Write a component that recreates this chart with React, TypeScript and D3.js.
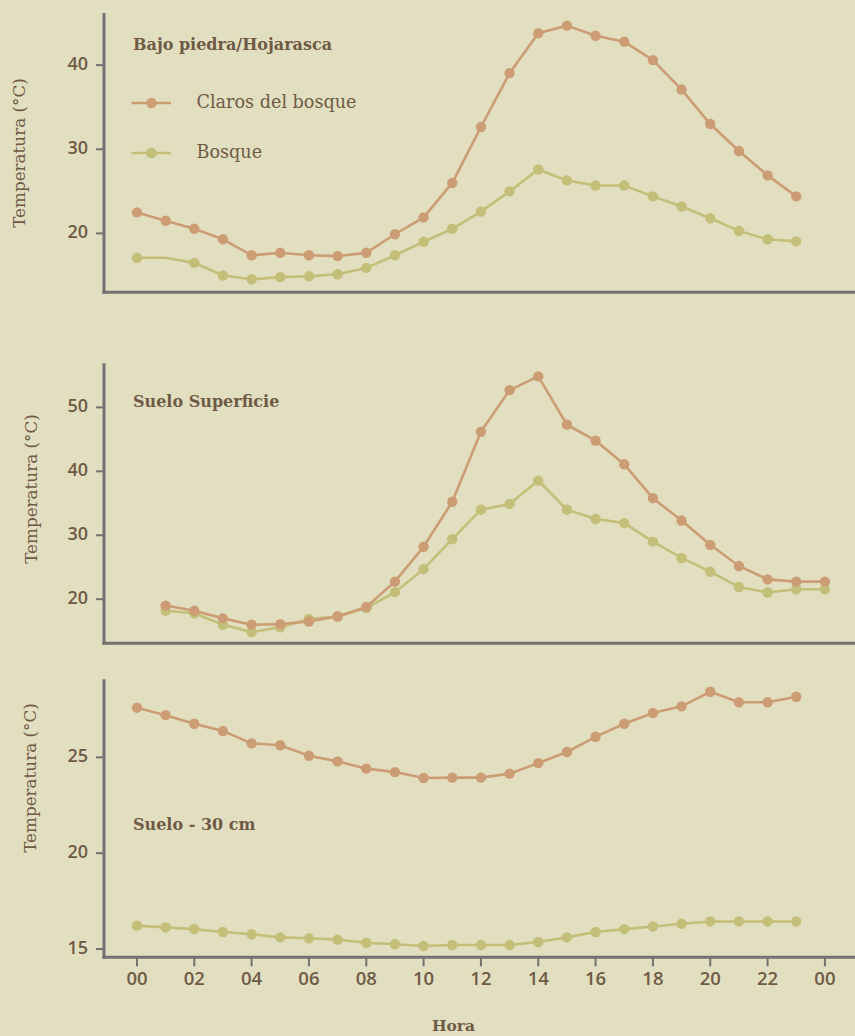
import React from 'react';
import * as d3 from 'd3';

// hours of the day
const hours = d3.range(0, 24);
const hoursSuelo = d3.range(1, 25);

// Bajo piedra / Hojarasca
const clarosHojarasca = [22.5, 21.5, 20.55, 19.3, 17.4, 17.7, 17.4, 17.3, 17.7, 19.9, 21.9, 26.0,
  32.65, 39.05, 43.8, 44.7, 43.5, 42.8, 40.6, 37.1, 33.0, 29.8, 26.9, 24.4];
const bosqueHojarasca = [17.1, 17.1, 16.5, 15.0, 14.55, 14.8, 14.9, 15.15, 15.9, 17.4, 19.0, 20.55,
  22.6, 25.0, 27.6, 26.3, 25.7, 25.7, 24.4, 23.2, 21.8, 20.3, 19.3, 19.05];
const bosqueHojarascaSinMarca = [1];

// Suelo superficie (01..24)
const clarosSuperficie = [19.0, 18.2, 17.0, 16.0, 16.1, 16.5, 17.3, 18.8, 22.75, 28.2, 35.25, 46.2,
  52.7, 54.85, 47.3, 44.8, 41.1, 35.8, 32.3, 28.5, 25.2, 23.1, 22.75, 22.75];
const bosqueSuperficie = [18.2, 17.8, 16.0, 14.85, 15.6, 16.9, 17.3, 18.6, 21.1, 24.7, 29.4, 34.0,
  34.9, 38.55, 34.0, 32.55, 31.9, 29.0, 26.45, 24.3, 21.9, 21.05, 21.55, 21.55];

// Suelo - 30 cm
const claros30 = [27.59, 27.2, 26.75, 26.37, 25.73, 25.63, 25.08, 24.79, 24.41, 24.23, 23.92, 23.94,
  23.94, 24.15, 24.7, 25.28, 26.07, 26.75, 27.31, 27.66, 28.42, 27.87, 27.87, 28.16];
const bosque30 = [16.22, 16.13, 16.04, 15.89, 15.77, 15.61, 15.56, 15.49, 15.33, 15.25, 15.16, 15.21,
  15.21, 15.21, 15.37, 15.61, 15.89, 16.04, 16.18, 16.32, 16.44, 16.44, 16.44, 16.44];

const ticksHojarasca = [20, 30, 40];
const ticksSuperficie = [20, 30, 40, 50];
const ticks30 = [15, 20, 25];
const xTicks = d3.range(0, 25, 2);
const xTickLabels = ['00', '02', '04', '06', '08', '10', '12', '14', '16', '18', '20', '22', '00'];

const seriesNames = ['Claros del bosque', 'Bosque'];

const W = 855;
const H = 1036;
const BG = '#e2dfc1';
const ORANGE = '#cc9d74';
const GREEN = '#c3be78';
const TEXT = '#6f5a45';
const AXIS = '#727272';
const SERIF = '"DejaVu Serif", serif';
const SANS = '"Open Sans", sans-serif';

const x = d3.scaleLinear().domain([-1.15, 25.05]).range([104, W]);

type Panel = {
  title: string;
  titleY: number;
  yDomain: [number, number];
  yRange: [number, number];
  ticks: number[];
  labelX: number;
  labelY: number;
  hrs: number[];
  claros: number[];
  bosque: number[];
  noMark?: number[];
  legend?: boolean;
  xAxisTicks?: boolean;
};

const panels: Panel[] = [
  {
    title: 'Bajo piedra/Hojarasca', titleY: 45, yDomain: [13, 46.2], yRange: [292.3, 13],
    ticks: ticksHojarasca, labelX: 20, labelY: 153, hrs: hours,
    claros: clarosHojarasca, bosque: bosqueHojarasca, noMark: bosqueHojarascaSinMarca, legend: true,
  },
  {
    title: 'Suelo Superficie', titleY: 402, yDomain: [13.1, 56.9], yRange: [643.3, 363.3],
    ticks: ticksSuperficie, labelX: 32, labelY: 489, hrs: hoursSuelo,
    claros: clarosSuperficie, bosque: bosqueSuperficie,
  },
  {
    title: 'Suelo - 30 cm', titleY: 825, yDomain: [14.57, 29.07], yRange: [957.3, 679.3],
    ticks: ticks30, labelX: 31, labelY: 778, hrs: hours,
    claros: claros30, bosque: bosque30, xAxisTicks: true,
  },
];

const Series = ({ hrs, vals, y, color, noMark = [] }: any) => {
  const line = d3.line<number>()
    .x((_, i) => x(hrs[i]))
    .y(d => y(d));
  return (
    <g>
      <path d={line(vals) || ''} fill="none" stroke={color} strokeWidth={2.6} />
      {vals.map((v: number, i: number) =>
        noMark.includes(i) ? null : <circle key={i} cx={x(hrs[i])} cy={y(v)} r={5.2} fill={color} />
      )}
    </g>
  );
};

const PanelView = ({ p }: { p: Panel }) => {
  const y = d3.scaleLinear().domain(p.yDomain).range(p.yRange);
  const bottom = p.yRange[0];
  const top = p.yRange[1];
  return (
    <g>
      <text x={p.labelX} y={p.labelY} transform={`rotate(-90 ${p.labelX} ${p.labelY})`}
        textAnchor="middle" dominantBaseline="middle" fill={TEXT}
        fontFamily={SERIF} fontSize={16.8}>Temperatura (°C)</text>
      {p.ticks.map(t => (
        <g key={t}>
          <line x1={96} x2={104} y1={y(t)} y2={y(t)} stroke={AXIS} strokeWidth={2} />
          <text x={88} y={y(t)} textAnchor="end" dominantBaseline="middle" fill={TEXT}
            fontFamily={SANS} fontWeight={600} fontSize={18}>{t}</text>
        </g>
      ))}
      <text x={133} y={p.titleY} dominantBaseline="middle" fill={TEXT}
        fontFamily={SERIF} fontWeight={700} fontSize={16}>{p.title}</text>
      {p.legend && seriesNames.map((n, i) => {
        const ly = 103 + i * 50;
        const c = i === 0 ? ORANGE : GREEN;
        return (
          <g key={n}>
            <line x1={131.5} x2={171} y1={ly} y2={ly} stroke={c} strokeWidth={2.6} />
            <circle cx={151.5} cy={ly} r={5.2} fill={c} />
            <text x={196.5} y={ly} dominantBaseline="middle" fill={TEXT}
              fontFamily={SERIF} fontSize={17.6}>{n}</text>
          </g>
        );
      })}
      <Series hrs={p.hrs} vals={p.bosque} y={y} color={GREEN} noMark={p.noMark} />
      <Series hrs={p.hrs} vals={p.claros} y={y} color={ORANGE} />
      <line x1={104} x2={104} y1={top} y2={bottom + 1.5} stroke={AXIS} strokeWidth={3} />
      <line x1={102.5} x2={W} y1={bottom} y2={bottom} stroke={AXIS} strokeWidth={3} />
      {p.xAxisTicks && xTicks.map((t, i) => (
        <g key={t}>
          <line x1={x(t)} x2={x(t)} y1={bottom} y2={bottom + 9} stroke={AXIS} strokeWidth={2} />
          <text x={x(t)} y={980} textAnchor="middle" dominantBaseline="middle" fill={TEXT}
            fontFamily={SANS} fontWeight={600} fontSize={18.5}>{xTickLabels[i]}</text>
        </g>
      ))}
    </g>
  );
};

export default function App() {
  return (
    <svg width={W} height={H} style={{ position: 'absolute', left: 0, top: 0, display: 'block' }}>
      <rect x={0} y={0} width={W} height={H} fill={BG} />
      {panels.map(p => <PanelView key={p.title} p={p} />)}
      <text x={453.5} y={1027} textAnchor="middle" dominantBaseline="middle" fill={TEXT}
        fontFamily={SERIF} fontWeight={700} fontSize={15.5}>Hora</text>
    </svg>
  );
}
